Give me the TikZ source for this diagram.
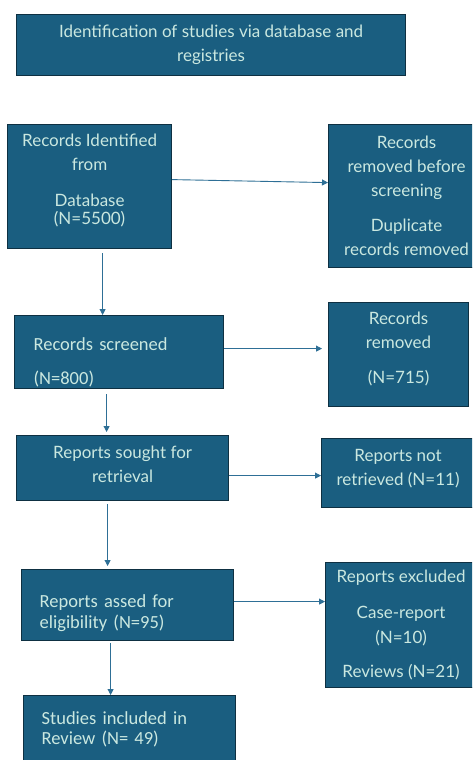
\documentclass[tikz,border=0pt]{standalone}
\usepackage{fontspec}
\setmainfont{Lato}
\newfontfamily\calibrifont{Carlito}
\usepackage{tikz}
\usetikzlibrary{arrows.meta, positioning}
\definecolor{BoxFill}{RGB}{26,94,128}
\definecolor{BoxLine}{RGB}{14,48,66}
\definecolor{BoxText}{RGB}{202,232,224}
\definecolor{ArrowColor}{RGB}{46,111,150}
\tikzstyle{box} = [draw=BoxLine, line width=1.2pt, fill=BoxFill, text=BoxText, anchor=north west, align=center, inner sep=0pt, font=\fontsize{17}{24}\selectfont]
\tikzstyle{leftbox} = [box, align=left, font=\calibrifont\fontsize{18.5}{24}\selectfont]
\tikzstyle{arrow} = [ArrowColor, line width=0.9pt, ->, >={Triangle[length=6pt, width=6pt]}]
% struts to move text inside a box
\newcommand{\padtop}[1]{\rule{0pt}{#1}}
\newcommand{\padbottom}[1]{\rule[-#1]{0pt}{0pt}}

\begin{document}
\begin{tikzpicture}[x=1pt, y=-1pt]
    \useasboundingbox (0,0) rectangle (472,760);
    \clip (0,0) rectangle (472,760);
    \fill[white] (0,0) rectangle (472,760);

    % title
    \node[box, minimum width=389pt, minimum height=61pt] (title) at (16,14)
        {Identification of studies via database and\\registries};

    % left column
    \node[box, minimum width=164pt, minimum height=124pt] (identified) at (7,124)
        {Records Identified\\from\\[12pt]Database\\[-6pt](N=5500)\padbottom{14pt}};
    \node[leftbox, minimum width=209pt, minimum height=73pt, text width=171pt] (screened) at (14,315)
        {\padtop{33pt}Records screened\\[10pt](N=800)};
    \node[box, minimum width=212pt, minimum height=65pt] (sought) at (16,435)
        {Reports sought for\\retrieval\padbottom{8pt}};
    \node[leftbox, minimum width=212pt, minimum height=71pt, text width=176pt] (assessed) at (21,569)
        {\padtop{29pt}Reports assed for\\[-3pt]eligibility (N=95)};
    \node[leftbox, minimum width=212pt, minimum height=85pt, text width=176pt] (included) at (23,695)
        {Studies included in\\[-4pt]Review (N= 49)\padbottom{20.5pt}};

    % right column
    \node[box, minimum width=156pt, minimum height=143pt] (dupes) at (328,124)
        {Records\\removed before\\screening\\[11pt]Duplicate\\records removed};
    \node[box, minimum width=140pt, minimum height=104pt] (removed) at (328,302)
        {Records\\removed\\[11pt](N=715)\padbottom{14pt}};
    \node[box, minimum width=153pt, minimum height=69pt] (notretrieved) at (321,438)
        {Reports not\\retrieved (N=11)\padbottom{11.5pt}};
    \node[box, minimum width=151pt, minimum height=125pt] (excluded) at (325,562)
        {Reports excluded\\[12pt]Case-report\\[1pt](N=10)\\[10pt]Reviews (N=21)};

    % arrows
    \draw[arrow] ([yshift=7pt]identified.east) -- ([yshift=13.5pt]dupes.west);
    \draw[arrow, shorten <=4pt] ([xshift=13pt]identified.south) -- ([xshift=13pt]identified.south |- screened.north);
    \draw[arrow, shorten >=6pt] ([yshift=3.5pt]screened.east) -- ([yshift=3.5pt]screened.east -| removed.west);
    \draw[arrow, shorten <=5pt, shorten >=3pt] ([xshift=-12.5pt]screened.south) -- ([xshift=-12.5pt]screened.south |- sought.north);
    \draw[arrow] ([yshift=-7.5pt]sought.east) -- ([yshift=-7.5pt]sought.east -| notretrieved.west);
    \draw[arrow, shorten <=3pt, shorten >=3pt] ([xshift=-15pt]sought.south) -- ([xshift=-15pt]sought.south |- assessed.north);
    \draw[arrow] ([yshift=3.5pt]assessed.east) -- ([yshift=3.5pt]assessed.east -| excluded.west);
    \draw[arrow, shorten <=2pt] ([xshift=-17pt]assessed.south) -- ([xshift=-17pt]assessed.south |- included.north);
\end{tikzpicture}
\end{document}
